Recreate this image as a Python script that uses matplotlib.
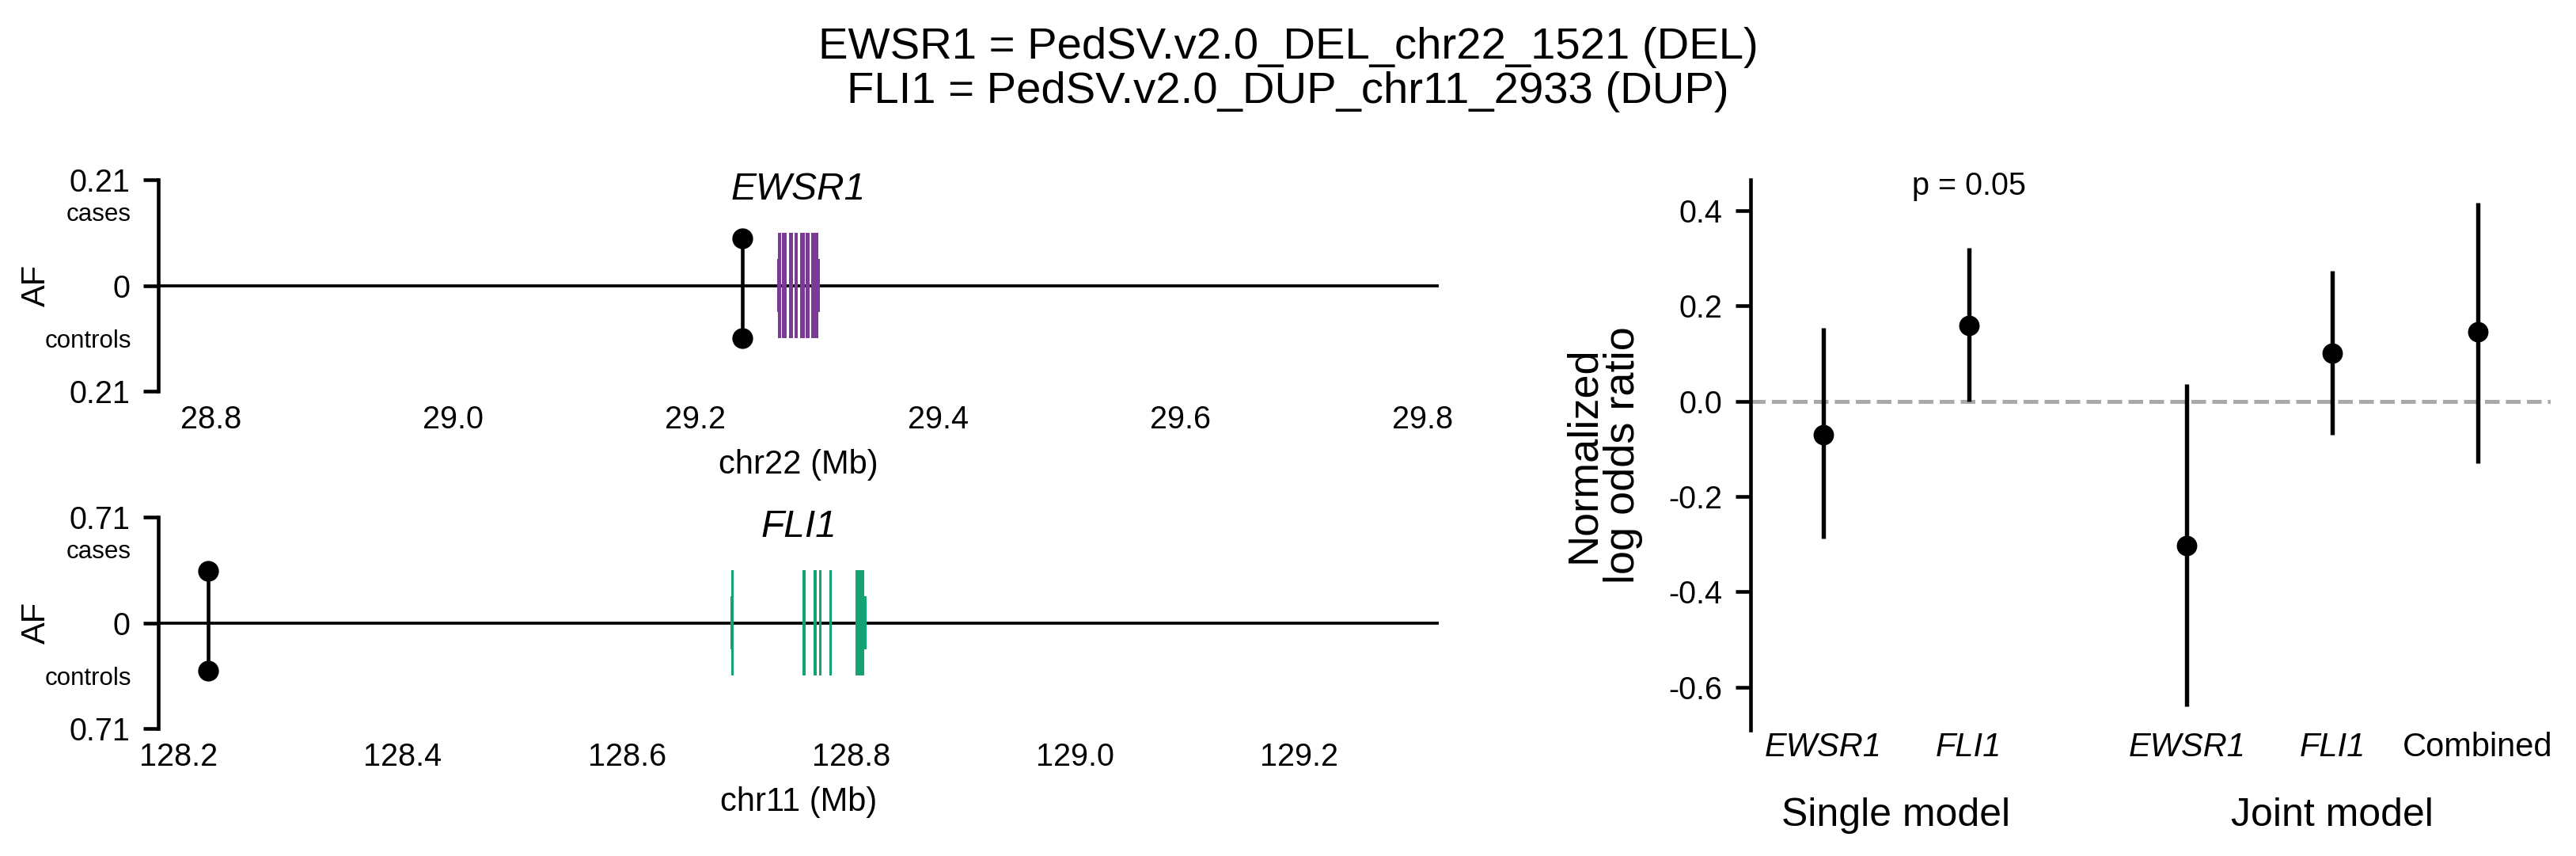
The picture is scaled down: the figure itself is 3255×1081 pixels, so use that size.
import numpy as np
import matplotlib
matplotlib.use("Agg")
import matplotlib.pyplot as plt
import matplotlib.transforms as mtransforms

plt.rcParams['font.family'] = ['Liberation Sans', 'DejaVu Sans']

# --- locus panels (positions in Mb) ---
ewsr1_cds = [(29.2677, 29.2703), (29.2714, 29.2749), (29.2771, 29.2801),
             (29.2816, 29.2843), (29.2862, 29.2901), (29.2908, 29.2943),
             (29.2956, 29.3016)]
ewsr1_exons = [(29.2672, 29.2703), (29.2714, 29.2749), (29.2771, 29.2801),
               (29.2816, 29.2843), (29.2862, 29.2901), (29.2908, 29.2943),
               (29.2956, 29.3027)]
ewsr1_sv_pos = 29.2387
ewsr1_af_cases = 0.094
ewsr1_af_controls = 0.105
ewsr1_ymax = 0.21
ewsr1_xticks = [28.8, 29.0, 29.2, 29.4, 29.6, 29.8]

fli1_cds = [(128.6933, 128.6952), (128.7568, 128.7596), (128.7667, 128.7695),
            (128.7714, 128.7738), (128.7806, 128.7829), (128.8041, 128.8116)]
fli1_exons = [(128.6924, 128.6952), (128.7568, 128.7596), (128.7667, 128.7695),
              (128.7714, 128.7738), (128.7806, 128.7829), (128.8041, 128.8140)]
fli1_sv_pos = 128.2262
fli1_af_cases = 0.346
fli1_af_controls = 0.320
fli1_ymax = 0.71
fli1_xticks = [128.2, 128.4, 128.6, 128.8, 129.0, 129.2]

# --- effect sizes ---
model_labels = ['EWSR1', 'FLI1', 'EWSR1', 'FLI1', 'Combined']
model_groups = ['Single model', 'Single model', 'Joint model', 'Joint model', 'Joint model']
lor = [-0.070, 0.159, -0.303, 0.100, 0.145]
lor_lo = [-0.289, 0.000, -0.641, -0.071, -0.130]
lor_hi = [0.153, 0.322, 0.036, 0.274, 0.417]
p_text = 'p = 0.05'

PURPLE = '#7B3A96'
GREEN = '#14A277'

W, H = 3255, 1081
fig = plt.figure(figsize=(W / 300, H / 300), dpi=300)


def locus_panel(ax, gene, chrom, cds, exons, sv_pos, af_case, af_ctrl, ymax,
                xticks, width, color):
    start = min(e[0] for e in exons)
    end = max(e[1] for e in exons)
    mid = (start + end) / 2
    ax.set_xlim(mid - width / 2, mid + width / 2)
    ax.set_ylim(-ymax, ymax)
    ax.axhline(0, color='black', lw=0.9, zorder=1)
    for s, e in exons:
        ax.fill_between([s, e], -ymax / 4, ymax / 4, color=color, lw=0, zorder=2)
    for s, e in cds:
        ax.fill_between([s, e], -ymax / 2, ymax / 2, color=color, lw=0, zorder=2)
    ax.plot([sv_pos, sv_pos], [af_case, -af_ctrl], color='black', lw=1.1,
            marker='o', ms=5.3, zorder=3)
    for side in ['top', 'right', 'bottom']:
        ax.spines[side].set_visible(False)
    ax.spines['left'].set_linewidth(1.1)
    ax.set_yticks([ymax, 0, -ymax])
    ax.set_yticklabels(['%g' % ymax, '0', '%g' % ymax])
    ax.set_xticks(xticks)
    ax.set_xticklabels(['%.1f' % t for t in xticks])
    ax.tick_params(axis='y', length=4.5, width=1.1, pad=4, labelsize=9.5)
    ax.tick_params(axis='x', length=0, pad=4, labelsize=9.5)
    ax.set_xlabel(chrom + ' (Mb)', fontsize=10, labelpad=4.5)
    ax.text(-0.021, 0.835, 'cases', transform=ax.transAxes, ha='right',
            va='center', fontsize=7.5)
    ax.text(-0.021, 0.235, 'controls', transform=ax.transAxes, ha='right',
            va='center', fontsize=7.5)
    ax.text(-0.095, 0.5, 'AF', transform=ax.transAxes, rotation=90,
            ha='center', va='center', fontsize=10)
    trans = mtransforms.blended_transform_factory(ax.transData, ax.transAxes)
    ax.text(mid, 0.955, gene, transform=trans, ha='center', va='center',
            fontsize=11.5, style='italic')


ax1 = fig.add_axes([200 / W, 1 - 494 / H, 1618 / W, 267 / H])
locus_panel(ax1, 'EWSR1', 'chr22', ewsr1_cds, ewsr1_exons, ewsr1_sv_pos,
            ewsr1_af_cases, ewsr1_af_controls, ewsr1_ymax, ewsr1_xticks,
            1.057, PURPLE)

ax2 = fig.add_axes([200 / W, 1 - 920 / H, 1618 / W, 267 / H])
locus_panel(ax2, 'FLI1', 'chr11', fli1_cds, fli1_exons, fli1_sv_pos,
            fli1_af_cases, fli1_af_controls, fli1_ymax, fli1_xticks,
            1.143, GREEN)

# --- right panel: normalized log odds ratios ---
ax3 = fig.add_axes([2212 / W, 1 - 921.7 / H, 1011 / W, 695 / H])
xpos = np.array([0, 1, 2.5, 3.5, 4.5])
lor = np.array(lor)
yerr = np.array([lor - np.array(lor_lo), np.array(lor_hi) - lor])
ax3.axhline(0, color='darkgray', lw=1.2, ls='--', zorder=1)
ax3.errorbar(xpos, lor, yerr=yerr, fmt='o', color='black', ms=5.2,
             elinewidth=1.3, capsize=0, zorder=3)
ax3.set_xlim(-0.5, 5.0)
ax3.set_ylim(-0.69, 0.465)
yt = [0.4, 0.2, 0.0, -0.2, -0.4, -0.6]
ax3.set_yticks(yt)
ax3.set_yticklabels(['%.1f' % t for t in yt])
for side in ['top', 'right', 'bottom']:
    ax3.spines[side].set_visible(False)
ax3.spines['left'].set_linewidth(1.1)
ax3.tick_params(axis='y', length=4.5, width=1.1, pad=4, labelsize=9.5)
ax3.tick_params(axis='x', length=0, pad=0.5, labelsize=10)
ax3.set_xticks(xpos)
ax3.set_xticklabels(model_labels)
for lbl in ax3.get_xticklabels():
    if lbl.get_text() != 'Combined':
        lbl.set_style('italic')
ax3.text(-0.184, 0.5, 'Normalized\nlog odds ratio', transform=ax3.transAxes,
         rotation=90, ha='center', va='center', fontsize=13,
         multialignment='center', linespacing=1.0)
trans3 = mtransforms.blended_transform_factory(ax3.transData, ax3.transAxes)
group_x = {'Single model': 0.5, 'Joint model': 3.5}
for g, gx in group_x.items():
    ax3.text(gx, -0.156, g, transform=trans3, ha='center', va='center',
             fontsize=12)
ax3.text(xpos[1], 0.988, p_text, transform=trans3, ha='center', va='center',
         fontsize=9.5)

fig.text(0.5, 1 - 88 / H,
         'EWSR1 = PedSV.v2.0_DEL_chr22_1521 (DEL)\nFLI1 = PedSV.v2.0_DUP_chr11_2933 (DUP)',
         ha='center', va='center', fontsize=13.5, linespacing=1.1)

fig.savefig('out.png', dpi=300)
